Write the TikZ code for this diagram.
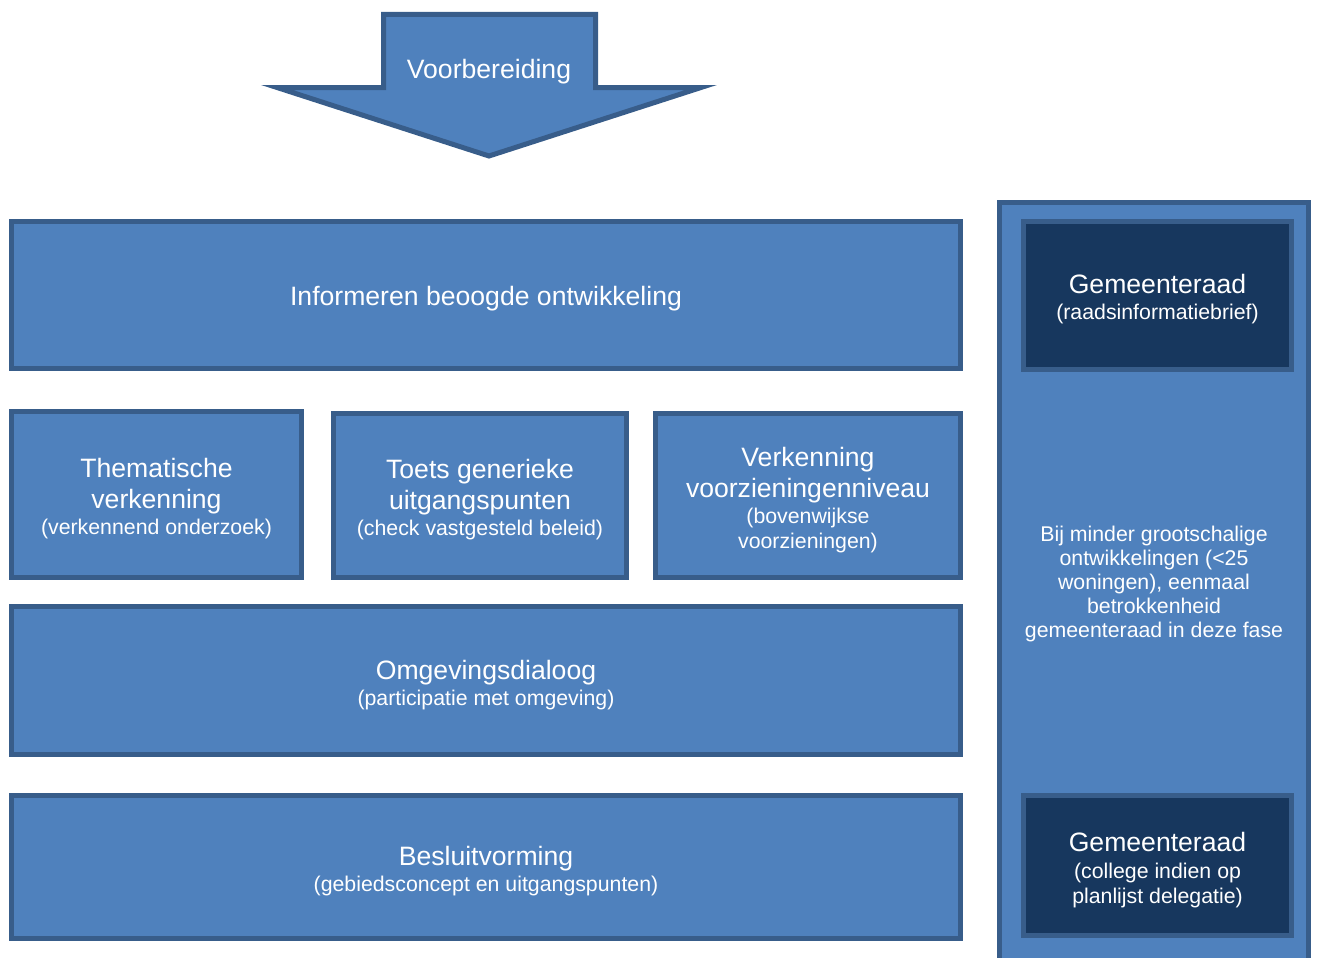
\documentclass[tikz,border=0pt]{standalone}
\usepackage{fontspec}
\setmainfont{Liberation Sans}
\definecolor{fillblue}{RGB}{79,129,189}
\definecolor{edgeblue}{RGB}{56,93,138}
\definecolor{darkblue}{RGB}{23,55,94}
\newcommand{\ttl}{\fontsize{26.6}{31}\selectfont}
\newcommand{\sbt}{\fontsize{21.3}{25}\selectfont}
\tikzset{
  box/.style={draw=edgeblue, line width=5pt, fill=fillblue, inner sep=0pt, rectangle},
  darkbox/.style={box, fill=darkblue},
  lbl/.style={text=white, align=center, inner sep=0pt, font=\ttl}
}
\begin{document}
\begin{tikzpicture}[x=1pt,y=-1pt]
\useasboundingbox (0,0) rectangle (1317,958);
\begin{scope}
\clip (0,0) rectangle (1317,958);
% arrow
\draw[draw=edgeblue, line width=5pt, fill=fillblue, line join=miter]
  (383.5,14.5) -- (595.5,14.5) -- (595.5,87.5) -- (701,87.5) -- (489,156) -- (277,87.5) -- (383.5,87.5) -- cycle;
\node[lbl] (voor) at (489,72) {Voorbereiding};
% left boxes
\node[box, minimum width=949, minimum height=147] (info) at (486,295) {};
\node[lbl] (info-t) at (486,299) {Informeren beoogde ontwikkeling};
\node[box, minimum width=290, minimum height=166] (them) at (156.5,494.5) {};
\node[lbl] (them-t) at (156.5,498.5)
  {Thematische\\verkenning\\[-5pt]\sbt (verkennend onderzoek)};
\node[box, minimum width=293, minimum height=164] (toets) at (480,495.5) {};
\node[lbl] (toets-t) at (480,499.5)
  {Toets generieke\\uitgangspunten\\[-5pt]\sbt (check vastgesteld beleid)};
\node[box, minimum width=305, minimum height=164] (verk) at (808,495.5) {};
\node[lbl] (verk-t) at (808,500)
  {Verkenning\\voorzieningenniveau\\[-5pt]\sbt (bovenwijkse\\[-6pt]\sbt voorzieningen)};
\node[box, minimum width=949, minimum height=148] (omg) at (486,680.5) {};
\node[lbl] (omg-t) at (486,685)
  {Omgevingsdialoog\\[-5pt]\sbt (participatie met omgeving)};
\node[box, minimum width=949, minimum height=143] (bes) at (486,867) {};
\node[lbl] (bes-t) at (486,871)
  {Besluitvorming\\[-5pt]\sbt (gebiedsconcept en uitgangspunten)};
% right column
\node[box, minimum width=309, minimum height=775] (col) at (1154,590) {};
\node[darkbox, minimum width=268, minimum height=148] (g1) at (1157.5,295.5) {};
\node[lbl] (g1-t) at (1157.5,299.5)
  {Gemeenteraad\\[-5pt]\sbt (raadsinformatiebrief)};
\node[darkbox, minimum width=268, minimum height=140] (g2) at (1157.5,865.5) {};
\node[lbl] (g2-t) at (1157.5,870)
  {Gemeenteraad\\[-4pt]\sbt (college indien op\\[-6pt]\sbt planlijst delegatie)};
\node[lbl, font=\fontsize{21.3}{24}\selectfont] (mid) at (1154,584)
  {Bij minder grootschalige\\ontwikkelingen (<25\\woningen), eenmaal\\betrokkenheid\\gemeenteraad in deze fase};
\end{scope}
\end{tikzpicture}
\end{document}
